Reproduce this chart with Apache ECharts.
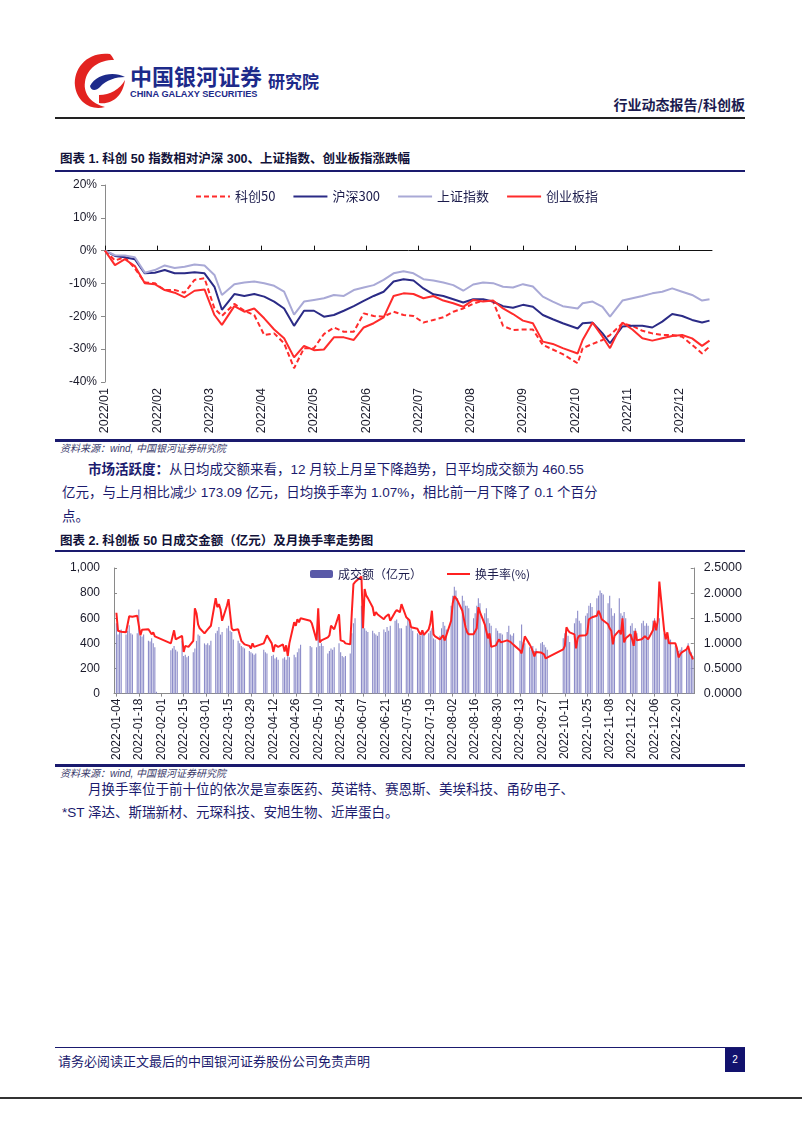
<!DOCTYPE html>
<html><head><meta charset="utf-8">
<script src="https://cdn.jsdelivr.net/npm/echarts@6/dist/echarts.min.js"></script>
<style>
html,body{margin:0;padding:0;background:#fff;}
body{width:802px;height:1133px;position:relative;overflow:hidden;font-family:"Liberation Sans","Noto Sans CJK SC",sans-serif;}
.a{position:absolute;white-space:nowrap;}
.rule{position:absolute;}
.title{font-size:12.5px;font-weight:bold;color:#111138;line-height:16px;}
.src{font-size:10px;font-style:italic;color:#3a3a6a;line-height:12px;}
.p{font-size:13.5px;color:#1b1b6e;line-height:18px;}
</style></head>
<body>
<!-- header -->
<svg class="a" style="left:70px;top:50px" width="60" height="62" viewBox="0 0 60 62">
 <path d="M40 4 C18 1 3 18 5 36 C7 52 21 61 35 57 C22 54 13 44 15 32 C17 18 29 10 44 10 C43 8 42 6 40 4Z" fill="#e32320"/>
 <path d="M20 36 C26 24 44 21 55 27 C46 27 36 30 30 37 C26 41 21 41 20 36Z" fill="#1d2a8a"/>
 <path d="M29 45 C40 45 50 39 55 30 C53 45 43 55 29 53Z" fill="#e32320"/>
</svg>
<div class="a" style="left:130px;top:62px;font-size:22px;font-weight:bold;color:#1d2a8a;line-height:26px;font-family:'Noto Sans CJK SC'">中国银河证券</div>
<div class="a" style="left:130px;top:88px;font-size:9.5px;font-weight:bold;color:#1d2a8a;line-height:11px;transform:scaleX(0.97);transform-origin:left center;">CHINA GALAXY SECURITIES</div>
<div class="a" style="left:268px;top:70px;font-size:17px;font-weight:bold;color:#1d2a8a;line-height:22px;font-family:'Noto Sans CJK SC'">研究院</div>
<div class="a" style="right:57px;top:95px;font-size:14px;font-weight:bold;color:#1b1b50;line-height:18px;font-family:'Noto Sans CJK SC'">行业动态报告/科创板</div>
<div class="rule" style="left:55px;top:117px;width:690px;height:2px;background:#222;"></div>

<!-- chart 1 -->
<div class="a title" style="left:60px;top:151px;">图表 1. 科创 50 指数相对沪深 300、上证指数、创业板指涨跌幅</div>
<div class="rule" style="left:55px;top:170px;width:690px;height:2px;background:#1a1a6e;"></div>
<div id="c1" class="a" style="left:55px;top:172px;width:690px;height:266px;"></div>
<div class="rule" style="left:55px;top:439px;width:690px;height:3px;background:#1a1a6e;"></div>
<div class="a src" style="left:60px;top:443px;">资料来源：wind, 中国银河证券研究院</div>

<div class="a p" style="left:88px;top:461px;"><b>市场活跃度：</b>从日均成交额来看，12 月较上月呈下降趋势，日平均成交额为 460.55</div>
<div class="a p" style="left:62px;top:484px;">亿元，与上月相比减少 173.09 亿元，日均换手率为 1.07%，相比前一月下降了 0.1 个百分</div>
<div class="a p" style="left:62px;top:508px;">点。</div>

<!-- chart 2 -->
<div class="a title" style="left:60px;top:533px;">图表 2. 科创板 50 日成交金额（亿元）及月换手率走势图</div>
<div class="rule" style="left:55px;top:550px;width:690px;height:2px;background:#1a1a6e;"></div>
<div id="c2" class="a" style="left:55px;top:552px;width:690px;height:211px;"></div>
<div class="rule" style="left:55px;top:764px;width:690px;height:3px;background:#1a1a6e;"></div>
<div class="a src" style="left:60px;top:768px;">资料来源：wind, 中国银河证券研究院</div>

<div class="a p" style="left:88px;top:781px;">月换手率位于前十位的依次是宣泰医药、英诺特、赛恩斯、美埃科技、甬矽电子、</div>
<div class="a p" style="left:62px;top:804px;">*ST 泽达、斯瑞新材、元琛科技、安旭生物、近岸蛋白。</div>

<!-- footer -->
<div class="rule" style="left:55px;top:1047px;width:690px;height:1px;background:#1a1a6e;"></div>
<div class="a" style="left:58px;top:1052px;font-size:13px;color:#1b1b6e;line-height:17px;font-family:'Noto Sans CJK SC'">请务必阅读正文最后的中国银河证券股份公司免责声明</div>
<div class="a" style="left:725px;top:1048px;width:20px;height:24px;background:#12126e;color:#fff;font-size:10px;line-height:24px;text-align:center;">2</div>
<div class="rule" style="left:0px;top:1097px;width:802px;height:2px;background:#333;"></div>

<script>
// ---------- Chart 1 data (x = trading-day index from start of 2022, y = % change) ----------
const days = [0,4,8,12,16,20,24,28,32,36,40,44,47,52,56,60,64,68,72,76,80,84,88,92,96,100,104,108,112,116,120,
  124,128,132,136,140,144,148,152,156,160,164,168,172,176,180,184,190,192,196,200,203,208,212,216,220,224,228,232,236,240,243];
const monthLabels = ['2022/01','2022/02','2022/03','2022/04','2022/05','2022/06','2022/07','2022/08','2022/09','2022/10','2022/11','2022/12'];
const kc50 = [0,-3.0,-2.0,-5.4,-9.7,-9.9,-12.0,-12.0,-12.8,-8.9,-8.4,-17.6,-19.9,-16.2,-18.3,-19.6,-25.7,-25.2,-28.2,-35.8,-29.7,-29.7,-25.4,-23.4,-24.7,-24.7,-19.1,-19.9,-20.1,-18.6,-19.6,
  -19.9,-21.9,-21.1,-20.3,-18.6,-17.6,-16.2,-15.2,-15.5,-22.9,-24.2,-24.0,-24.0,-28.7,-30.1,-31.5,-34.3,-29.7,-28.4,-27.2,-25.7,-22.1,-22.9,-24.4,-25.2,-25.7,-25.7,-26.2,-28.7,-31.3,-29.2];
const hs300 = [0,-1.6,-2.0,-2.6,-6.9,-6.7,-5.9,-6.9,-6.9,-6.6,-6.9,-11.0,-18.0,-13.2,-13.8,-13.2,-14.0,-15.5,-17.6,-22.9,-18.3,-18.3,-20.1,-19.6,-18.3,-16.9,-15.3,-13.8,-12.5,-9.4,-8.7,
  -9.1,-11.5,-13.3,-13.8,-14.8,-15.8,-14.8,-14.8,-15.5,-16.9,-17.4,-16.5,-17.1,-19.6,-20.9,-22.1,-23.7,-22.1,-21.9,-25.2,-28.2,-23.1,-22.9,-22.9,-23.4,-21.6,-19.3,-19.9,-21.1,-21.9,-21.3];
const szzs = [0,-1.4,-1.5,-2.0,-6.7,-5.9,-4.5,-5.3,-4.9,-4.2,-4.5,-7.4,-13.5,-10.2,-9.7,-9.4,-9.9,-10.7,-12.5,-19.5,-15.5,-15.0,-14.5,-13.5,-13.8,-12.0,-11.2,-10.5,-8.9,-6.9,-6.3,
  -6.9,-8.7,-9.1,-9.7,-10.5,-12.2,-10.3,-9.7,-9.9,-11.0,-11.2,-10.2,-10.9,-14.0,-15.5,-16.9,-17.6,-16.0,-15.5,-17.1,-20.1,-15.2,-14.5,-13.8,-13.0,-12.5,-11.5,-12.5,-13.5,-15.2,-14.8];
const cybz = [0,-4.4,-2.6,-4.7,-9.9,-10.2,-12.0,-12.8,-14.2,-12.2,-11.8,-19.6,-22.6,-16.9,-18.6,-17.6,-20.6,-24.0,-26.7,-32.5,-29.0,-30.3,-30.1,-26.4,-26.4,-27.2,-23.4,-22.1,-20.3,-13.8,-13.0,
  -13.2,-14.5,-13.8,-15.2,-16.0,-17.1,-15.0,-15.5,-15.2,-17.6,-19.3,-21.3,-22.1,-27.7,-28.4,-29.7,-31.3,-27.2,-21.9,-26.2,-29.7,-21.9,-24.0,-26.7,-27.4,-26.7,-26.0,-25.7,-26.7,-29.0,-27.4];

// ---------- Chart 2 data (trading days, amount 亿元, turnover %) ----------
const tradeDates = [
 '01-04','01-05','01-06','01-07','01-10','01-11','01-12','01-13','01-14','01-17','01-18','01-19','01-20','01-21','01-24','01-25','01-26','01-27','01-28','01-29',
 '02-07','02-08','02-09','02-10','02-11','02-14','02-15','02-16','02-17','02-18','02-21','02-22','02-23','02-24','02-25','02-28',
 '03-01','03-02','03-03','03-04','03-07','03-08','03-09','03-10','03-11','03-14','03-15','03-16','03-17','03-18','03-21','03-22','03-23','03-24','03-25','03-28','03-29','03-30','03-31',
 '04-01','04-06','04-07','04-08','04-11','04-12','04-13','04-14','04-15','04-18','04-19','04-20','04-21','04-22','04-25','04-26','04-27','04-28','04-29',
 '05-05','05-06','05-09','05-10','05-11','05-12','05-13','05-16','05-17','05-18','05-19','05-20','05-23','05-24','05-25','05-26','05-27','05-30','05-31',
 '06-01','06-02','06-06','06-07','06-08','06-09','06-10','06-13','06-14','06-15','06-16','06-17','06-20','06-21','06-22','06-23','06-24','06-27','06-28','06-29','06-30',
 '07-01','07-04','07-05','07-06','07-07','07-08','07-11','07-12','07-13','07-14','07-15','07-18','07-19','07-20','07-21','07-22','07-25','07-26','07-27','07-28','07-29',
 '08-01','08-02','08-03','08-04','08-05','08-08','08-09','08-10','08-11','08-12','08-15','08-16','08-17','08-18','08-19','08-22','08-23','08-24','08-25','08-26','08-29','08-30','08-31',
 '09-01','09-02','09-05','09-06','09-07','09-08','09-09','09-13','09-14','09-15','09-16','09-19','09-20','09-21','09-22','09-23','09-26','09-27','09-28','09-29','09-30',
 '10-10','10-11','10-12','10-13','10-14','10-17','10-18','10-19','10-20','10-21','10-24','10-25','10-26','10-27','10-28','10-31',
 '11-01','11-02','11-03','11-04','11-07','11-08','11-09','11-10','11-11','11-14','11-15','11-16','11-17','11-18','11-21','11-22','11-23','11-24','11-25','11-28','11-29','11-30',
 '12-01','12-02','12-05','12-06','12-07','12-08','12-09','12-12','12-13','12-14','12-15','12-16','12-19','12-20','12-21','12-22','12-23','12-26','12-27','12-28','12-29','12-30'];
const amounts = [
 560,470,490,510,470,500,545,480,470,480,670,460,455,470,420,415,440,400,370,15,
 345,360,380,350,335,420,300,310,290,300,330,360,420,470,460,400,
 390,400,385,420,480,500,530,470,490,520,540,500,490,430,420,400,380,370,360,340,330,320,310,
 320,350,330,320,300,310,280,290,270,280,290,270,300,290,310,290,330,360,390,
 380,370,370,520,380,400,380,320,340,360,350,370,400,330,300,290,300,320,480,
 560,600,700,640,520,500,490,500,480,470,460,490,510,490,530,500,540,580,590,560,520,
 520,540,600,560,520,500,480,470,460,490,470,480,500,520,440,430,460,520,570,540,510,
 700,780,850,820,760,780,740,700,700,680,600,640,700,760,720,640,680,600,560,540,520,500,480,
 480,470,490,540,470,460,480,420,550,410,400,370,350,380,340,360,400,410,390,370,350,
 440,480,520,460,410,560,600,660,580,560,620,640,700,720,690,760,
 780,820,800,790,720,780,680,620,640,760,640,620,650,600,540,560,500,520,480,560,580,540,
 560,540,580,600,560,620,600,480,460,440,420,430,380,360,340,350,370,360,400,340,330,300];
const turnover = [
 1.61,1.25,1.23,1.23,1.22,1.22,1.54,1.54,1.53,1.55,1.56,1.16,1.27,1.28,1.28,1.26,1.18,1.22,1.14,null,
 1.00,1.02,1.26,1.08,1.05,1.15,0.83,0.95,0.96,0.93,1.05,1.70,1.60,1.38,1.30,1.20,
 1.22,1.28,1.30,1.35,1.90,1.72,1.78,1.68,1.45,1.75,1.88,1.90,1.30,1.26,1.28,1.25,1.05,1.02,0.98,0.95,0.90,1.00,0.93,
 0.96,1.00,1.08,1.16,1.00,0.83,0.97,0.95,0.93,0.98,0.84,0.96,0.75,1.00,1.42,1.35,1.48,1.42,1.50,
 1.45,1.40,1.06,1.70,1.02,1.06,1.07,1.12,1.16,1.35,1.32,1.28,1.58,1.06,1.05,1.04,1.00,0.98,1.62,
 2.18,2.22,2.33,1.30,2.08,1.95,1.90,1.72,1.55,1.62,1.58,1.58,1.48,1.53,1.56,1.58,1.45,1.62,1.66,1.68,1.62,
 1.78,1.52,1.50,1.46,1.32,1.30,1.29,1.22,1.17,1.26,1.17,1.28,1.40,1.65,1.18,1.14,1.08,1.10,1.16,1.06,1.16,
 1.45,1.80,1.94,1.90,1.85,1.65,1.48,1.32,1.22,1.18,1.18,1.24,1.30,1.72,1.62,1.38,1.24,1.10,1.20,0.93,0.96,1.03,1.08,
 1.02,1.04,1.06,1.04,1.03,1.00,0.97,0.86,0.80,0.77,1.14,0.98,0.92,0.84,0.74,0.83,0.82,0.80,0.78,0.70,0.68,
 0.88,0.95,1.32,1.26,1.22,1.18,0.90,1.10,1.15,1.15,1.16,1.20,1.48,1.45,1.52,1.55,
 1.65,1.58,1.48,1.45,1.38,1.30,1.25,0.98,1.15,1.26,1.18,1.50,1.02,1.10,1.18,1.08,0.95,1.25,1.06,1.08,1.09,1.14,
 1.14,1.08,1.26,1.45,1.26,1.45,2.23,1.26,1.08,1.22,1.00,1.03,1.00,0.90,0.72,0.78,0.82,0.88,0.95,0.82,0.76,0.68];

// ---------- Chart 1 ----------
const numFont = 'Liberation Sans';
const cjkText = {fontFamily:'Noto Sans CJK SC', color:'#1b1b4b'};
const monthTicks = monthLabels.map((_, i) => i * 21);
const pair = arr => days.map((d, i) => [d, arr[i]]);
const hideSym = {opacity:0};
const c1 = echarts.init(document.getElementById('c1'));
c1.setOption({
  animation:false,
  grid:{left:50, top:13, width:607, height:197},
  legend:{left:135, top:13, itemWidth:34, itemHeight:10, itemGap:17,
    itemStyle:hideSym,
    textStyle:Object.assign({fontSize:13}, cjkText),
    data:['科创50','沪深300','上证指数','创业板指']},
  xAxis:[
    {type:'value', min:0, max:244, interval:21, position:'bottom',
     axisLine:{show:false, onZero:false}, axisTick:{show:false}, splitLine:{show:false},
     axisLabel:{rotate:90, margin:6, fontSize:12.5, color:'#1a1a2a', fontFamily:numFont,
       customValues:monthTicks,
       formatter:v => (v % 21 === 0 && monthLabels[v/21]) ? monthLabels[v/21] : ''}},
    {type:'value', min:0, max:244, interval:21, position:'bottom',
     axisLine:{show:true, onZero:true, lineStyle:{color:'#111', width:1}},
     axisTick:{show:true, inside:true, length:5, customValues:monthTicks, lineStyle:{color:'#111'}},
     axisLabel:{show:false}, splitLine:{show:false}}
  ],
  yAxis:{type:'value', min:-40, max:20, interval:10,
    axisLine:{show:true, lineStyle:{color:'#8a8a8a'}},
    axisTick:{show:true, length:4, lineStyle:{color:'#8a8a8a'}},
    splitLine:{show:false},
    axisLabel:{formatter:'{value}%', fontSize:12, color:'#1a1a2a', fontFamily:numFont, margin:8}},
  series:[
    {name:'科创50', type:'line', data:pair(kc50), symbol:'none', color:'#ff2b2b',
     lineStyle:{width:2, type:[5,3], color:'#ff2b2b'}},
    {name:'沪深300', type:'line', data:pair(hs300), symbol:'none', color:'#2b2b86',
     lineStyle:{width:2, color:'#2b2b86'}},
    {name:'上证指数', type:'line', data:pair(szzs), symbol:'none', color:'#a9a9d6',
     lineStyle:{width:2, color:'#a9a9d6'}},
    {name:'创业板指', type:'line', data:pair(cybz), symbol:'none', color:'#ff2b2b',
     lineStyle:{width:2, color:'#ff2b2b'}}
  ]
});

// ---------- Chart 2 ----------
const calDays = [];
for (let d = new Date(Date.UTC(2022,0,3)); d <= new Date(Date.UTC(2022,11,30)); d.setUTCDate(d.getUTCDate()+1)) {
  calDays.push(d.toISOString().slice(0,10));
}
const pos = {};
calDays.forEach((s, i) => { pos[s.slice(5)] = i; });
const barData = calDays.map(() => null);
const lineData = calDays.map(() => null);
tradeDates.forEach((md, k) => { barData[pos[md]] = amounts[k]; lineData[pos[md]] = turnover[k]; });
const every14 = idx => (idx - 1) % 14 === 0;

const c2 = echarts.init(document.getElementById('c2'));
c2.setOption({
  animation:false,
  grid:{left:59, right:42, top:16, height:128},
  legend:{left:250, top:11, itemWidth:23, itemHeight:8, itemGap:24,
    textStyle:Object.assign({fontSize:12}, cjkText),
    data:[{name:'成交额（亿元）', itemStyle:{color:'#5a5aa8'}},
          {name:'换手率(%)', itemStyle:{opacity:0}}]},
  xAxis:{type:'category', data:calDays, boundaryGap:true,
    axisLine:{lineStyle:{color:'#8a8a8a'}},
    axisTick:{show:true, alignWithLabel:true, interval:every14, length:3, lineStyle:{color:'#8a8a8a'}},
    axisLabel:{interval:every14, rotate:90, margin:5, fontSize:12, color:'#1a1a2a', fontFamily:numFont}},
  yAxis:[
    {type:'value', min:0, max:1000, interval:200,
     axisLine:{show:true, lineStyle:{color:'#8a8a8a'}},
     axisTick:{show:true, inside:true, length:3, lineStyle:{color:'#8a8a8a'}},
     splitLine:{show:false},
     axisLabel:{fontSize:12, color:'#1a1a2a', fontFamily:numFont, margin:14}},
    {type:'value', min:0, max:2.5, interval:0.5, position:'right',
     axisLine:{show:true, lineStyle:{color:'#8a8a8a'}},
     axisTick:{show:true, inside:true, length:3, lineStyle:{color:'#8a8a8a'}},
     splitLine:{show:false},
     axisLabel:{fontSize:12.5, color:'#1a1a2a', fontFamily:numFont, margin:10, formatter:v => v.toFixed(4)}}
  ],
  series:[
    {name:'成交额（亿元）', type:'bar', data:barData, barWidth:1.1, color:'#8c8cc9',
     itemStyle:{color:'#8c8cc9'}},
    {name:'换手率(%)', type:'line', yAxisIndex:1, data:lineData, connectNulls:true, symbol:'none',
     color:'#ff2020', lineStyle:{width:2, color:'#ff2020'}}
  ]
});
</script>
</body></html>
